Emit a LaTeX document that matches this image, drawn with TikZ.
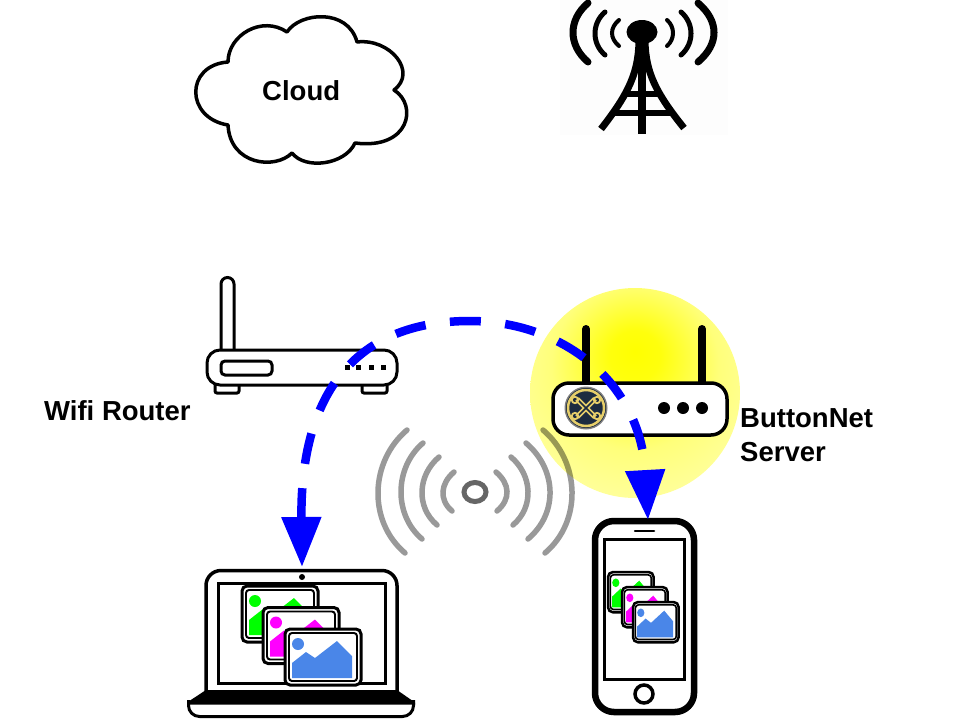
\documentclass[tikz,border=0pt]{standalone}
\usepackage{fontspec}
\setmainfont{Liberation Sans}
\usetikzlibrary{arrows.meta}
\definecolor{wire}{HTML}{0000FF}
\definecolor{gold}{HTML}{E6CE6A}
\definecolor{navy}{HTML}{1C2B40}
\definecolor{photoblue}{HTML}{4A86E8}
\definecolor{photogreen}{HTML}{00FF00}
\definecolor{photomagenta}{HTML}{FF00FF}
\definecolor{faint}{HTML}{FDFDFD}
\definecolor{ringgray}{HTML}{808080}
\pgfdeclareradialshading{glowshade}{\pgfpoint{0bp}{10bp}}{%
  rgb(0bp)=(1,1,0);
  rgb(6bp)=(1,1,0.05);
  rgb(20bp)=(1,1,0.48);
  rgb(36bp)=(1,1,0.68);
  rgb(50bp)=(1,1,0.78);
  rgb(56bp)=(1,1,0.95)}
\tikzset{
  label text/.style={font=\bfseries\fontsize{27.5}{33}\selectfont,inner sep=0pt,anchor=base west},
  outline/.style={draw=black,line width=3pt,fill=white},
  wave/.style={draw=black,draw opacity=.4,line cap=round,line width=5.5pt},
  towerwave/.style={draw=black,line cap=round},
  solidblack/.style={fill=black,draw=none},
  radiolink/.style={draw=wire,line width=8.5pt,dash pattern=on 31pt off 24.5pt,
    {Triangle[length=50pt,width=38pt,fill=wire]}-{Triangle[length=50pt,width=38pt,fill=wire]}},
}
\newcommand{\wavearc}[6][wave]{%
  \pgfmathsetmacro{\dxval}{4/3*(#4-(#2+#5)/2)}%
  \pgfmathsetmacro{\dyval}{0.85*abs(\dxval)}%
  \draw[#1] (#2,#3) .. controls (#2+\dxval,#3+\dyval) and (#5+\dxval,#6-\dyval) .. (#5,#6);}
% x, y, xscale, yscale, colour, outer line width
\newcommand{\imgicon}[6]{%
  \begin{scope}[shift={(#1,#2)},xscale=#3,yscale=#4]
    \draw[draw=black,fill=white,line width=#6pt,rounded corners=5pt] (0,0) rectangle (76,56);
    \draw[draw=black,fill=white,line width=0.65*#6pt,rounded corners=3pt] (4,4) rectangle (72,52);
    \fill[#5] (13,15) circle[radius=6];
    \fill[#5] (7,49) -- (7,34) -- (21,23) -- (30,29) -- (52,12) -- (67,27) -- (67,49) -- cycle;
  \end{scope}}
\begin{document}
\begin{tikzpicture}[x=1pt,y=-1pt]
\useasboundingbox (0,0) rectangle (960,720);
\fill[white] (0,0) rectangle (960,720);

% cloud
\draw[draw=black,line width=3.5pt,fill=white,line join=round]
  (228,62) .. controls (228,35) and (262,15) .. (287,32)
  .. controls (300,12) and (348,8) .. (357,42)
  .. controls (390,38) and (418,72) .. (394,90)
  .. controls (418,105) and (410,150) .. (355,143)
  .. controls (345,165) and (305,170) .. (292,153)
  .. controls (275,170) and (230,165) .. (228,125)
  .. controls (185,118) and (185,65) .. (228,62) -- cycle;
\node[label text] (cloudlabel) at (262,100) {Cloud};

% tower
\fill[faint] (560,0) rectangle (728,135);
\wavearc[towerwave,line width=7pt]{588}{3}{573}{588}{62}
\wavearc[towerwave,line width=5pt]{605}{12}{595}{605}{55}
\wavearc[towerwave,line width=4pt]{619}{20}{612}{619}{46}
\wavearc[towerwave,line width=7pt]{698}{3}{714}{698}{62}
\wavearc[towerwave,line width=5pt]{681}{12}{691}{681}{55}
\wavearc[towerwave,line width=4pt]{667}{20}{673}{667}{46}
\fill (642,32) ellipse[x radius=15.5,y radius=12];
\draw[line width=8pt] (642,40) -- (642,134);
\draw[line width=7pt] (639,42) .. controls (638,72) and (630,92) .. (601,129);
\draw[line width=7pt] (645,42) .. controls (646,72) and (655,92) .. (684,128);
\draw[line width=6pt] (626,94) -- (658,94);
\draw[line width=6pt] (613,113) -- (671,113);

% glow
\shade[shading=glowshade] (635,393) circle[radius=105];

% wifi router
\draw[outline,rounded corners=6.5pt] (221,352) -- (221,277.5) -- (234,277.5) -- (234,352);
\draw[outline,rounded corners=2pt] (215,383) rectangle (239,393);
\draw[outline,rounded corners=2pt] (362,383) rectangle (387,393);
\draw[outline,rounded corners=13pt] (207,350) rectangle (397,385);
\draw[outline,rounded corners=4pt] (221,361) rectangle (272,375);
\foreach \dotx in {347,358,371,383}{\fill (\dotx-2.5,364.5) rectangle (\dotx+2.5,369.5);}
\node[label text] (wifilabel) at (44,420) {Wifi Router};

% buttonnet server
\draw[line width=8pt,line cap=round] (586,329) -- (586,386);
\draw[line width=8pt,line cap=round] (702,329) -- (702,386);
\draw[outline,line width=3.5pt,rounded corners=16pt] (553,383) rectangle (727,435);
\fill[ringgray] (586,408) circle[radius=21.5];
\fill[navy] (586,408) circle[radius=20];
\draw[gold,line width=2.5pt] (586,408) circle[radius=18];
\begin{scope}[line width=1.8pt]
  \draw[gold,line width=5pt] (577,399) -- (595,417);
  \draw[gold,line width=5pt] (595,399) -- (577,417);
  \draw[navy,line width=1.5pt] (578,400) -- (594,416);
  \draw[navy,line width=1.5pt] (594,400) -- (578,416);
  \draw[gold] (575,400) circle[radius=3.2];
  \draw[gold] (597,400) circle[radius=3.2];
  \draw[gold] (575,416) circle[radius=3.2];
  \draw[gold] (597,416) circle[radius=3.2];
\end{scope}
\foreach \dotx in {664,683,702}{\fill (\dotx,408) circle[radius=6];}
\node[label text] (serverlabela) at (740,427) {ButtonNet};
\node[label text] (serverlabelb) at (740,461) {Server};

% radio waves
\wavearc{407}{430}{378}{405}{553}
\wavearc{423}{443}{401}{422}{539}
\wavearc{439}{457}{422}{437}{525}
\wavearc{454}{472}{443}{452}{511}
\wavearc{543}{430}{572}{545}{553}
\wavearc{526}{443}{550}{528}{539}
\wavearc{511}{457}{528}{513}{525}
\wavearc{496}{472}{507}{497}{511}
\draw[draw=black,draw opacity=.6,line width=5pt] (475,492) ellipse[x radius=11,y radius=9.5];

% laptop
\draw[outline,line width=3.5pt,rounded corners=15pt] (206,692) -- (206,570.5) -- (397,570.5) -- (397,692);
\draw[draw=black,line width=3pt] (218,583) rectangle (385,683);
\fill (302,577) circle[radius=3];
\imgicon{242}{586}{1}{1}{photogreen}{3}
\imgicon{263}{607.5}{1}{1}{photomagenta}{3}
\imgicon{285}{629}{1}{1}{photoblue}{3}
\draw[draw=black,fill=white,line width=3pt,rounded corners=11pt] (188.5,700) -- (188.5,716.5) -- (413.5,716.5) -- (413.5,700);
\fill[solidblack] (206,690) -- (397,690) -- (415,702.5) -- (415,704.5) -- (187,704.5) -- (187,702.5) -- cycle;

% phone
\draw[draw=black,fill=white,line width=6.5pt,rounded corners=19pt] (595,521) rectangle (694,712);
\draw[draw=black,line width=3pt] (604,539) rectangle (684,679);
\draw[line width=2.5pt,line cap=round] (635,531) -- (654,531);
\draw[line width=3.5pt] (644,694) circle[radius=9];
\imgicon{608}{572}{.6}{.72}{photogreen}{2.5}
\imgicon{622}{587}{.6}{.72}{photomagenta}{2.5}
\imgicon{633}{602}{.6}{.72}{photoblue}{2.5}

% connectors
\coordinate (laptoptip) at (302,567);
\coordinate (arcapex) at (470,321);
\coordinate (phonetip) at (648,520);
\draw[radiolink] (laptoptip) .. controls (300,400) and (350,321) .. (arcapex)
  .. controls (560,321) and (640,380) .. (phonetip);
\end{tikzpicture}
\end{document}
